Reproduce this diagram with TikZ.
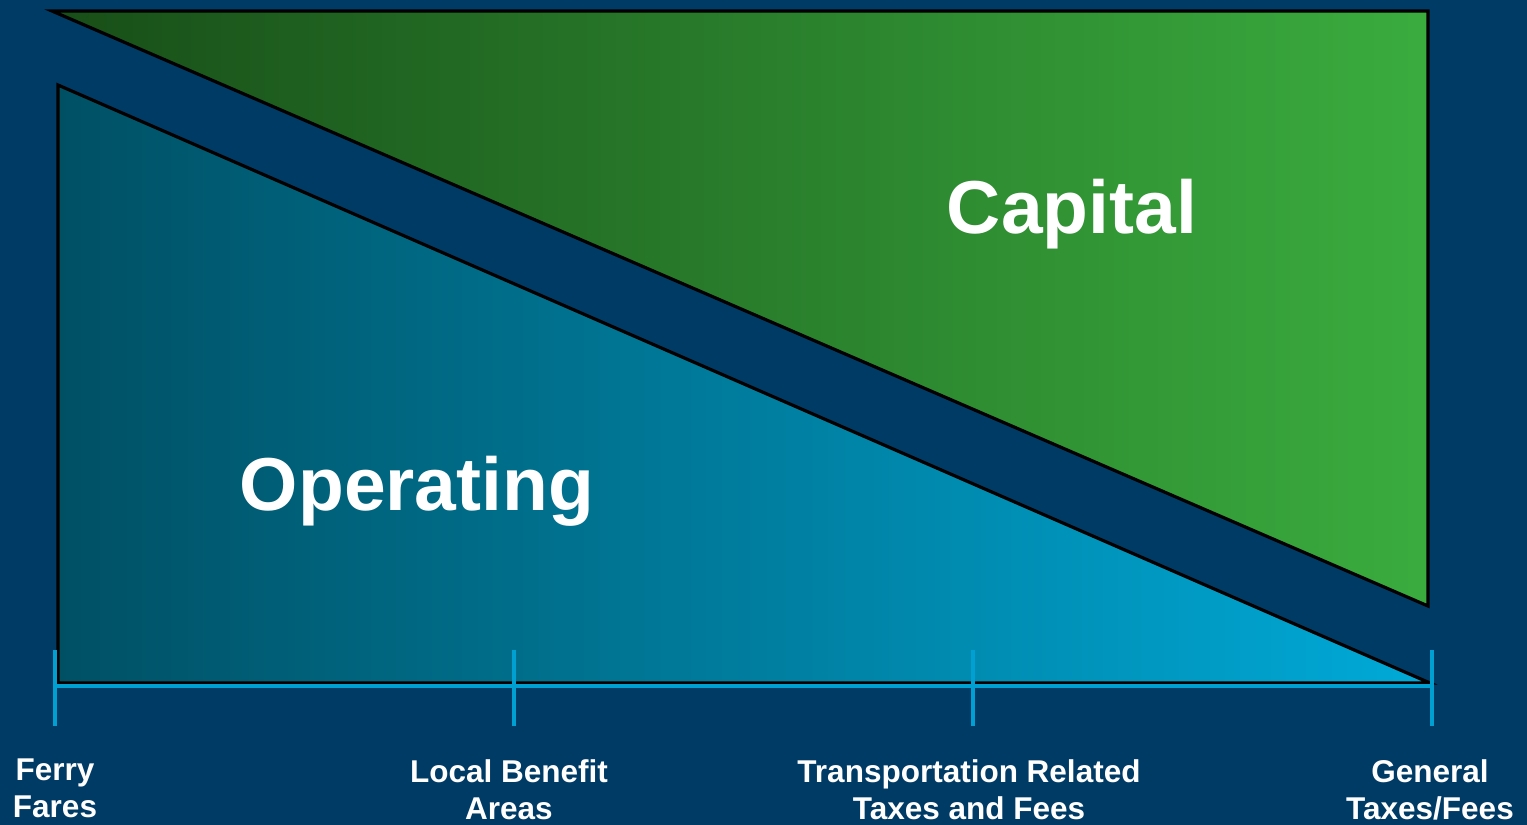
\documentclass[tikz,border=0pt]{standalone}
\usepackage{fontspec}
\setmainfont{Liberation Sans}
\begin{document}
\definecolor{bgblue}{RGB}{0,59,102}
\definecolor{capdark}{RGB}{24,78,24}
\definecolor{caplight}{RGB}{58,172,62}
\definecolor{opdark}{RGB}{0,80,100}
\definecolor{oplight}{RGB}{0,170,216}
\definecolor{axiscyan}{RGB}{0,160,210}
\begin{tikzpicture}[x=1pt,y=-1pt,
  outline/.style={draw=black,line width=3.2pt,line join=miter},
  axisline/.style={draw=axiscyan,line width=3.5pt},
  tickline/.style={draw=axiscyan,line width=3.5pt},
  biglabel/.style={text=white,font=\bfseries\fontsize{75}{80}\selectfont,inner sep=0pt,anchor=base},
  ticklabel/.style={text=white,font=\bfseries\fontsize{31.5}{37}\selectfont,align=center,inner sep=0pt,anchor=north}]
  % background
  \fill[bgblue] (0,0) rectangle (1527,825);
  \useasboundingbox (0,0) rectangle (1527,825);

  % capital wedge
  \shade[left color=capdark,right color=caplight] (52,11) -- (1428,11) -- (1428,606) -- cycle;
  \draw[outline] (52,11) -- (1428,11) -- (1428,606) -- cycle;

  % operating wedge
  \shade[left color=opdark,right color=oplight] (58,85) -- (58,683) -- (1430,683) -- cycle;
  \draw[outline] (58,85) -- (58,683) -- (1430,683) -- cycle;

  % axis and ticks
  \coordinate (t1) at (55,686);
  \coordinate (t2) at (514,686);
  \coordinate (t3) at (973,686);
  \coordinate (t4) at (1432,686);
  \draw[axisline] (t1) -- (t4);
  \foreach \t in {t1,t2,t3,t4}
    \draw[tickline] ([yshift=36pt]\t) -- ([yshift=-40pt]\t);

  % labels
  \node[biglabel] (cap) at (1072,233) {Capital};
  \node[biglabel] (op) at (417,510) {Operating};

  \node[ticklabel] (l1) at (55,759) {Ferry\\Fares};
  \node[ticklabel] (l2) at (509,759) {Local Benefit\\Areas};
  \node[ticklabel] (l3) at (969,759) {Transportation Related\\Taxes and Fees};
  \node[ticklabel] (l4) at (1430,759) {General\\Taxes/Fees};
\end{tikzpicture}
\end{document}
